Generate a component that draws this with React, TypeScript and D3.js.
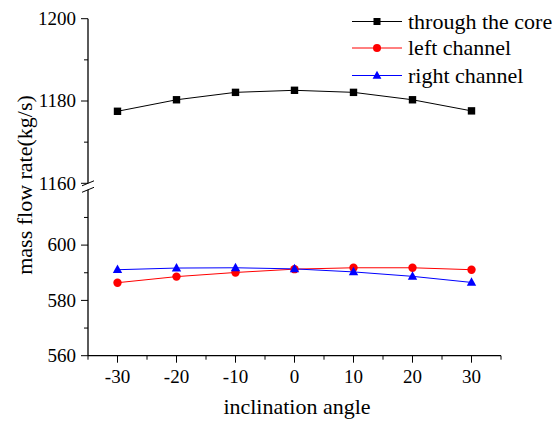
import React from "react";
import * as d3 from "d3";

const angles = [-30, -20, -10, 0, 10, 20, 30];
const coreValues = [1177.5, 1180.3, 1182.1, 1182.6, 1182.1, 1180.3, 1177.6];
const leftValues = [586.4, 588.6, 590.1, 591.3, 591.8, 591.8, 591.1];
const rightValues = [591.1, 591.7, 591.8, 591.4, 590.3, 588.7, 586.5];
const xTicks = [-30, -20, -10, 0, 10, 20, 30];
const xMinorTicks = [-35, -25, -15, -5, 5, 15, 25, 35];
const yUpperTicks = [1160, 1180, 1200];
const yUpperMinor = [1170, 1190];
const yLowerTicks = [560, 580, 600];
const yLowerMinor = [570, 590, 610];
const seriesNames = ["through the core", "left channel", "right channel"];

const FONT = "'Liberation Serif', 'Times New Roman', serif";

export default function App() {
  const W = 559, H = 423;
  const x = d3.scaleLinear().domain([-35, 35]).range([88, 501]);
  const yUp = d3.scaleLinear().domain([1160, 1200]).range([183.3, 18.7]);
  const yLow = d3.scaleLinear().domain([560, 620]).range([355.7, 189.8]);
  const axisX = 88;
  const axisY = 355.7;

  const lineUp = d3.line<number>().x((_, i) => x(angles[i])).y((v) => yUp(v));
  const lineLow = d3.line<number>().x((_, i) => x(angles[i])).y((v) => yLow(v));

  const tri = (cx: number, cy: number, s: number) =>
    `M${cx},${cy - s * 0.6} L${cx + s * 0.55},${cy + s * 0.4} L${cx - s * 0.55},${cy + s * 0.4} Z`;

  const legendX1 = 352, legendX2 = 402, legendMarkX = 377, legendTextX = 408;
  const legendYs = [21.5, 48, 75.5];

  return (
    <svg width={W} height={H} style={{ position: "absolute", left: 0, top: 0, background: "#fff" }}>
      <rect x={0} y={0} width={W} height={H} fill="#fff" />
      {/* y axis segments */}
      <line x1={axisX} x2={axisX} y1={yUp(1200)} y2={yUp(1160)} stroke="#000" strokeWidth={1.3} />
      <line x1={axisX} x2={axisX} y1={yLow(620)} y2={axisY} stroke="#000" strokeWidth={1.3} />
      {/* break marks */}
      <line x1={axisX - 6} x2={axisX + 6} y1={yUp(1160) + 2.5} y2={yUp(1160) - 2.5} stroke="#000" strokeWidth={1} />
      <line x1={axisX - 6} x2={axisX + 6} y1={yLow(620) + 2.5} y2={yLow(620) - 2.5} stroke="#000" strokeWidth={1} />
      {/* x axis */}
      <line x1={axisX} x2={x(35)} y1={axisY} y2={axisY} stroke="#000" strokeWidth={1.3} />
      {xTicks.map((t) => (
        <g key={"xt" + t}>
          <line x1={x(t)} x2={x(t)} y1={axisY} y2={axisY + 7} stroke="#000" strokeWidth={1} />
          <text x={x(t)} y={383} textAnchor="middle" fontFamily={FONT} fontSize={19} fill="#000">{t}</text>
        </g>
      ))}
      {xMinorTicks.map((t) => (
        <line key={"xm" + t} x1={x(t)} x2={x(t)} y1={axisY} y2={axisY + 4} stroke="#000" strokeWidth={1} />
      ))}
      {yUpperTicks.map((t) => (
        <g key={"yu" + t}>
          <line x1={axisX - 7} x2={axisX} y1={yUp(t)} y2={yUp(t)} stroke="#000" strokeWidth={1} />
          <text x={76} y={yUp(t) + 6.3} textAnchor="end" fontFamily={FONT} fontSize={19} fill="#000">{t}</text>
        </g>
      ))}
      {yUpperMinor.map((t) => (
        <line key={"yum" + t} x1={axisX - 4} x2={axisX} y1={yUp(t)} y2={yUp(t)} stroke="#000" strokeWidth={1} />
      ))}
      {yLowerTicks.map((t) => (
        <g key={"yl" + t}>
          <line x1={axisX - 7} x2={axisX} y1={yLow(t)} y2={yLow(t)} stroke="#000" strokeWidth={1} />
          <text x={76} y={yLow(t) + 6.3} textAnchor="end" fontFamily={FONT} fontSize={19} fill="#000">{t}</text>
        </g>
      ))}
      {yLowerMinor.map((t) => (
        <line key={"ylm" + t} x1={axisX - 4} x2={axisX} y1={yLow(t)} y2={yLow(t)} stroke="#000" strokeWidth={1} />
      ))}
      {/* axis titles */}
      <text x={297} y={414} textAnchor="middle" fontFamily={FONT} fontSize={22} fill="#000">inclination angle</text>
      <text transform="translate(32,185) rotate(-90)" textAnchor="middle" fontFamily={FONT} fontSize={22} fill="#000">mass flow rate(kg/s)</text>

      {/* series */}
      <path d={lineUp(coreValues) || ""} fill="none" stroke="#000" strokeWidth={1} />
      {coreValues.map((v, i) => (
        <rect key={"c" + i} x={x(angles[i]) - 3.7} y={yUp(v) - 3.7} width={7.4} height={7.4} fill="#000" />
      ))}
      <path d={lineLow(leftValues) || ""} fill="none" stroke="#ff0000" strokeWidth={1} />
      <path d={lineLow(rightValues) || ""} fill="none" stroke="#0000ff" strokeWidth={1} />
      {leftValues.map((v, i) => (
        <circle key={"l" + i} cx={x(angles[i])} cy={yLow(v)} r={4.2} fill="#ff0000" />
      ))}
      {rightValues.map((v, i) => (
        <path key={"r" + i} d={tri(x(angles[i]), yLow(v), 8.5)} fill="#0000ff" />
      ))}

      {/* legend */}
      {seriesNames.map((name, i) => {
        const color = ["#000", "#ff0000", "#0000ff"][i];
        const ly = legendYs[i];
        return (
          <g key={"lg" + i}>
            <line x1={legendX1} x2={legendX2} y1={ly} y2={ly} stroke={color} strokeWidth={1} />
            {i === 0 && <rect x={legendMarkX - 3.5} y={ly - 3.5} width={7} height={7} fill={color} />}
            {i === 1 && <circle cx={legendMarkX} cy={ly} r={4} fill={color} />}
            {i === 2 && <path d={tri(legendMarkX, ly, 8)} fill={color} />}
            <text x={legendTextX} y={ly + 7} fontFamily={FONT} fontSize={22} fill="#000">{name}</text>
          </g>
        );
      })}
    </svg>
  );
}
